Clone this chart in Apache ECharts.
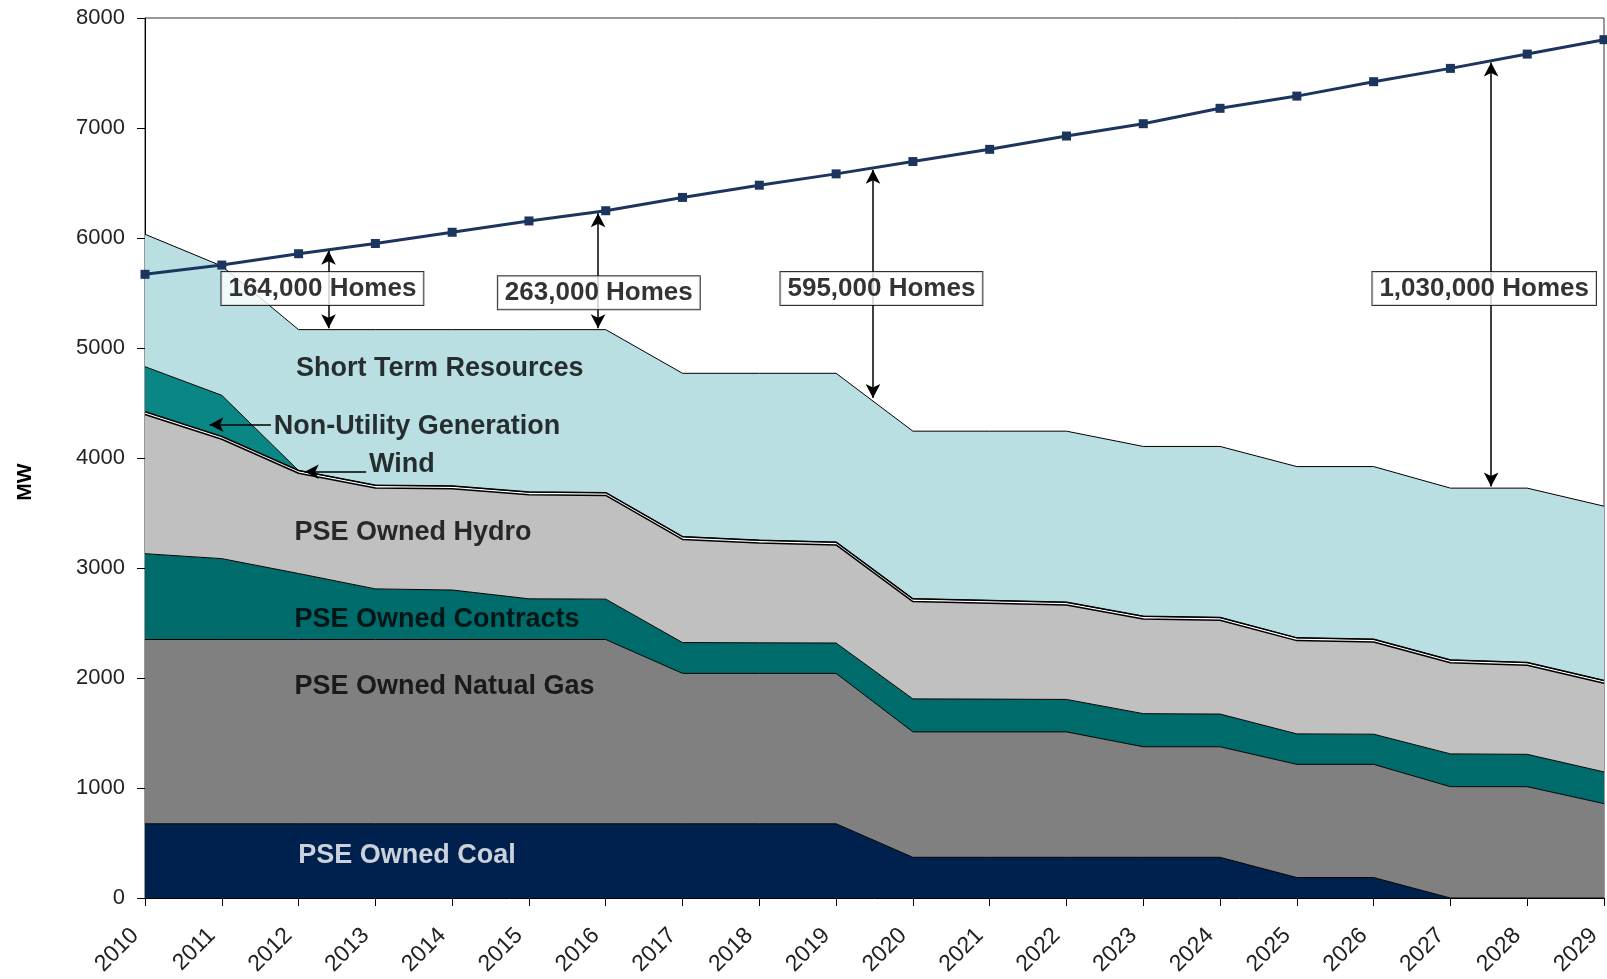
<!DOCTYPE html>
<html>
<head>
<meta charset="utf-8">
<script src="https://cdn.jsdelivr.net/npm/echarts@6/dist/echarts.min.js"></script>
<style>
html,body{margin:0;padding:0;background:#fff;}
#chart{width:1607px;height:979px;}
</style>
</head>
<body>
<div id="chart"></div>
<script>
// ---- data ----
const years = ['2010','2011','2012','2013','2014','2015','2016','2017','2018','2019','2020','2021','2022','2023','2024','2025','2026','2027','2028','2029'];
const coal = [675,675,675,675,675,675,675,675,675,675,370,370,370,370,370,186,186,0,0,0];
const naturalGas = [1675,1675,1675,1675,1675,1675,1675,1367,1367,1367,1140,1140,1140,1005,1005,1029,1029,1012,1012,858];
const contracts = [780,735,600,460,450,370,367,280,278,276,300,298,295,301,297,277,274,298,294,288];
const hydro = [1265,1085,911,917,920,945,943,938,907,892,885,872,858,860,853,848,838,829,809,806];
const wind = [25,25,25,25,25,25,25,25,25,25,25,25,25,25,25,25,25,25,25,25];
const nonUtility = [410,375,0,0,0,0,0,0,0,0,0,0,0,0,0,0,0,0,0,0];
const shortTerm = [1204,1175,1281,1415,1422,1477,1482,1485,1518,1535,1524,1539,1556,1544,1555,1557,1570,1562,1586,1585];
const peakDemand = [5670,5754,5857,5950,6052,6155,6248,6369,6480,6583,6695,6806,6927,7039,7179,7290,7421,7542,7672,7803];
const yTicks = [0,1000,2000,3000,4000,5000,6000,7000,8000];

// annotations (data coordinates: [year, MW])
const gapLabels = ['164,000 Homes','263,000 Homes','595,000 Homes','1,030,000 Homes'];
const gapLabelAt = [[2012.31,5540],[2015.91,5503],[2019.59,5540],[2027.44,5540]];
const gapArrowX = [2012.39,2015.9,2019.48,2027.53];
const gapArrowTop = [5885,6225,6620,7595];
const gapArrowBottom = [5180,5180,4545,3740];

const regionLabels = ['Short Term Resources','Non-Utility Generation','Wind','PSE Owned Hydro','PSE Owned Contracts','PSE Owned Natual Gas','PSE Owned Coal'];
const regionLabelAt = [[2011.96,4814],[2011.67,4283],[2012.91,3939],[2011.94,3324],[2011.94,2533],[2011.94,1918],[2011.99,382]];
const pointerFrom = [[2011.64,4303],[2012.88,3875]];
const pointerTo = [[2010.84,4303],[2012.08,3875]];

// ---- chart ----
const FONT = 'Liberation Sans, Arial, sans-serif';

function areaSeries(name, arr, color, lineW) {
  return {
    name, type:'line', stack:'res', data: arr, xAxisIndex:0,
    showSymbol:false, symbol:'none', silent:true,
    lineStyle:{color:'#000', width: lineW},
    areaStyle:{color: color, opacity:1},
    z:2
  };
}

const chart = echarts.init(document.getElementById('chart'), null, {renderer:'canvas'});
const option = {
  animation:false,
  grid:{left:145, right:3, top:18, bottom:81, show:true, borderColor:'#333', borderWidth:1, backgroundColor:'transparent'},
  xAxis:[{
    type:'category', data:years, boundaryGap:false,
    axisLine:{show:true, onZero:false, lineStyle:{color:'#000', width:1}},
    axisTick:{show:true, length:8, alignWithLabel:true, lineStyle:{color:'#000'}},
    axisLabel:{rotate:45, fontSize:23, fontFamily:FONT, color:'#222', margin:24, padding:[0,14,0,0], interval:0},
    splitLine:{show:false}
  },{
    type:'value', min:2010, max:2029, interval:1, show:false
  }],
  yAxis:{
    type:'value', min:yTicks[0], max:yTicks[yTicks.length-1], interval:1000,
    axisLine:{show:true, onZero:false, lineStyle:{color:'#000', width:1}},
    axisTick:{show:true, length:8, lineStyle:{color:'#000'}},
    axisLabel:{fontSize:22, fontFamily:FONT, color:'#222', margin:20, formatter:v => String(v)},
    splitLine:{show:false}
  },
  graphic:[{
    type:'text', x:25, y:482, rotation:Math.PI/2,
    style:{text:'MW', fontSize:21, fontWeight:'bold', fontFamily:FONT, fill:'#000', align:'center', verticalAlign:'middle'}
  }],
  series:[
    areaSeries('PSE Owned Coal', coal, '#00204E', 1),
    areaSeries('PSE Owned Natual Gas', naturalGas, '#808080', 1),
    areaSeries('PSE Owned Contracts', contracts, '#006B6B', 1),
    areaSeries('PSE Owned Hydro', hydro, '#C0C0C0', 1.5),
    areaSeries('Wind', wind, '#FFFFFF', 1.5),
    areaSeries('Non-Utility Generation', nonUtility, '#0A8784', 1),
    areaSeries('Short Term Resources', shortTerm, '#B9DFE3', 1),
    {
      name:'Peak Demand', type:'line', data: peakDemand, xAxisIndex:0, z:4,
      symbol:'rect', symbolSize:9, showSymbol:true,
      itemStyle:{color:'#1C355E'},
      lineStyle:{color:'#1C355E', width:3}
    },
    {
      name:'gap arrows', type:'line', data:[], xAxisIndex:1, z:5,
      markLine:{
        silent:true, symbol:['arrow','arrow'], symbolSize:[11,14],
        lineStyle:{color:'#000', width:1.5, type:'solid'},
        label:{show:false},
        data: gapArrowX.map((x,i) => [{coord:[x, gapArrowTop[i]]},{coord:[x, gapArrowBottom[i]]}])
      }
    },
    {
      name:'pointers', type:'line', data:[], xAxisIndex:1, z:5,
      markLine:{
        silent:true, symbol:['none','arrow'], symbolSize:[11,14],
        lineStyle:{color:'#000', width:1.5, type:'solid'},
        label:{show:false},
        data: pointerFrom.map((p,i) => [{coord:p},{coord:pointerTo[i]}])
      }
    },
    {
      name:'region labels', type:'scatter', xAxisIndex:1, z:6, silent:true,
      symbolSize:1, itemStyle:{color:'rgba(0,0,0,0)'},
      data: regionLabels.map((t,i) => ({
        name:t, value:regionLabelAt[i],
        label:{color: i === regionLabels.length-1 ? '#ffffff' : '#000000'}
      })),
      label:{show:true, position:'right', distance:0, formatter:p => p.name,
        fontSize:27, fontWeight:'bold', fontFamily:FONT}
    },
    {
      name:'gap labels', type:'scatter', xAxisIndex:1, z:10, silent:true,
      symbolSize:1, itemStyle:{color:'rgba(0,0,0,0)'},
      data: gapLabels.map((t,i) => ({name:t, value:gapLabelAt[i]})),
      label:{show:true, position:'inside', formatter:p => p.name,
        fontSize:26, fontWeight:'bold', fontFamily:FONT, color:'#000',
        backgroundColor:'#fff', borderColor:'#000', borderWidth:1, padding:[4,7,3,7]}
    }
  ]
};
chart.setOption(option);
</script>
</body>
</html>
